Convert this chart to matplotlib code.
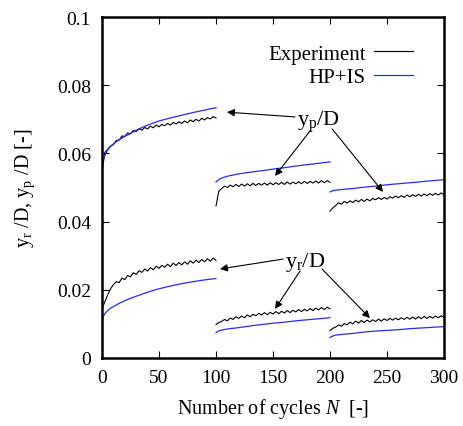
import numpy as np
import matplotlib
matplotlib.use('Agg')
import matplotlib.pyplot as plt

plt.rcParams['font.family'] = ['Liberation Serif', 'DejaVu Serif']
plt.rcParams['mathtext.fontset'] = 'custom'
plt.rcParams['mathtext.rm'] = 'Liberation Serif'
plt.rcParams['mathtext.it'] = 'Liberation Serif:italic'

# experiment, sampled every 2.5 cycles
n_exp1 = np.arange(0, 100.1, 2.5)
n_exp2 = np.arange(100, 200.1, 2.5)
n_exp3 = np.arange(200, 300.1, 2.5)

yp_exp1 = [0.0545, 0.0603, 0.0612, 0.0622, 0.0626, 0.0638, 0.0639, 0.0651, 0.0650, 0.0660,
           0.0658, 0.0667, 0.0664, 0.0672, 0.0668, 0.0676, 0.0672, 0.0680, 0.0675, 0.0683,
           0.0678, 0.0685, 0.0681, 0.0688, 0.0683, 0.0691, 0.0686, 0.0693, 0.0688, 0.0695,
           0.0690, 0.0698, 0.0693, 0.0700, 0.0695, 0.0703, 0.0698, 0.0705, 0.0701, 0.0708,
           0.0704]
yp_exp2 = [0.0446, 0.0490, 0.0497, 0.0504, 0.0500, 0.0507, 0.0502, 0.0509, 0.0503, 0.0510,
           0.0504, 0.0511, 0.0505, 0.0512, 0.0506, 0.0512, 0.0507, 0.0513, 0.0507, 0.0514,
           0.0508, 0.0514, 0.0509, 0.0515, 0.0509, 0.0516, 0.0510, 0.0516, 0.0511, 0.0517,
           0.0511, 0.0518, 0.0512, 0.0518, 0.0513, 0.0519, 0.0513, 0.0520, 0.0514, 0.0520,
           0.0515]
yp_exp3 = [0.0431, 0.0440, 0.0447, 0.0455, 0.0451, 0.0459, 0.0454, 0.0461, 0.0456, 0.0463,
           0.0458, 0.0465, 0.0459, 0.0466, 0.0461, 0.0468, 0.0464, 0.0470, 0.0465, 0.0471,
           0.0466, 0.0473, 0.0469, 0.0475, 0.0470, 0.0476, 0.0471, 0.0478, 0.0473, 0.0479,
           0.0474, 0.0480, 0.0475, 0.0481, 0.0476, 0.0482, 0.0477, 0.0483, 0.0478, 0.0484,
           0.0479]
yr_exp1 = [0.0145, 0.0165, 0.0185, 0.0203, 0.0215, 0.0224, 0.0221, 0.0234, 0.0230, 0.0242,
           0.0238, 0.0250, 0.0245, 0.0256, 0.0251, 0.0261, 0.0255, 0.0265, 0.0259, 0.0269,
           0.0263, 0.0272, 0.0266, 0.0275, 0.0268, 0.0278, 0.0271, 0.0280, 0.0273, 0.0282,
           0.0275, 0.0285, 0.0278, 0.0287, 0.0280, 0.0289, 0.0282, 0.0291, 0.0284, 0.0293,
           0.0286]
yr_exp2 = [0.0098, 0.0104, 0.0107, 0.0113, 0.0109, 0.0117, 0.0113, 0.0121, 0.0116, 0.0123,
           0.0118, 0.0126, 0.0121, 0.0128, 0.0124, 0.0131, 0.0126, 0.0133, 0.0127, 0.0134,
           0.0129, 0.0136, 0.0130, 0.0137, 0.0132, 0.0139, 0.0133, 0.0140, 0.0135, 0.0142,
           0.0136, 0.0143, 0.0138, 0.0145, 0.0139, 0.0146, 0.0141, 0.0148, 0.0142, 0.0149,
           0.0144]
yr_exp3 = [0.0080, 0.0087, 0.0091, 0.0097, 0.0093, 0.0101, 0.0097, 0.0105, 0.0100, 0.0108,
           0.0102, 0.0110, 0.0104, 0.0111, 0.0106, 0.0112, 0.0107, 0.0114, 0.0108, 0.0115,
           0.0110, 0.0116, 0.0111, 0.0117, 0.0112, 0.0118, 0.0113, 0.0119, 0.0114, 0.0120,
           0.0114, 0.0121, 0.0115, 0.0122, 0.0116, 0.0122, 0.0117, 0.0123, 0.0118, 0.0124,
           0.0119]

# HP+IS model
n_mod1 = [0, 1, 2.5, 5, 7.5, 10, 15, 20, 25, 30, 40, 50, 60, 70, 80, 90, 100]
yp_mod1 = [0.0548, 0.0578, 0.0594, 0.0610, 0.0620, 0.0628, 0.0640, 0.0650, 0.0658, 0.0668,
           0.0683, 0.0695, 0.0704, 0.0712, 0.0720, 0.0727, 0.0734]
yr_mod1 = [0.0109, 0.0120, 0.0130, 0.0139, 0.0146, 0.0151, 0.0160, 0.0168, 0.0175, 0.0181,
           0.0193, 0.0203, 0.0211, 0.0218, 0.0224, 0.0229, 0.0233]
n_mod2 = [100, 102, 105, 110, 120, 130, 140, 150, 160, 170, 180, 190, 200]
yp_mod2 = [0.0516, 0.0522, 0.0528, 0.0533, 0.0540, 0.0545, 0.0549, 0.0554, 0.0558, 0.0563,
           0.0567, 0.0571, 0.0575]
yr_mod2 = [0.0074, 0.0079, 0.0082, 0.0085, 0.0089, 0.0094, 0.0098, 0.0102, 0.0105, 0.0109,
           0.0112, 0.0115, 0.0118]
n_mod3 = [200, 202, 205, 210, 220, 230, 240, 250, 260, 270, 280, 290, 300]
yp_mod3 = [0.0487, 0.0490, 0.0492, 0.0494, 0.0497, 0.0501, 0.0504, 0.0508, 0.0511, 0.0514,
           0.0517, 0.0520, 0.0523]
yr_mod3 = [0.0060, 0.0064, 0.0067, 0.0069, 0.0072, 0.0076, 0.0079, 0.0081, 0.0083, 0.0086,
           0.0088, 0.0090, 0.0092]

xticks = [0, 50, 100, 150, 200, 250, 300]
yticks = [0, 0.02, 0.04, 0.06, 0.08, 0.1]
ytick_labels = ['0', '0.02', '0.04', '0.06', '0.08', '0.1']

blue = '#2a2aff'

fig = plt.figure(figsize=(4.63, 4.27), dpi=100)
ax = fig.add_axes([0.2203, 0.1593, 0.7387, 0.7985])

exp_sets = [(n_exp1, yp_exp1), (n_exp2, yp_exp2), (n_exp3, yp_exp3),
            (n_exp1, yr_exp1), (n_exp2, yr_exp2), (n_exp3, yr_exp3)]
mod_sets = [(n_mod1, yp_mod1), (n_mod2, yp_mod2), (n_mod3, yp_mod3),
            (n_mod1, yr_mod1), (n_mod2, yr_mod2), (n_mod3, yr_mod3)]

for i, (n, y) in enumerate(exp_sets):
    ax.plot(n, y, color='black', lw=0.8, label='Experiment' if i == 0 else None)
for i, (n, y) in enumerate(mod_sets):
    ax.plot(n, y, color=blue, lw=0.9, label='HP+IS' if i == 0 else None)

# annotations
arr = dict(arrowstyle='-|>', color='black', lw=0.8, mutation_scale=11, shrinkA=0, shrinkB=0)
ax.text(190, 0.0695, r'y$_\mathrm{p}$/D', fontsize=16, ha='center', va='center')
ax.annotate('', xy=(109.6, 0.0721), xytext=(169.3, 0.0707), arrowprops=arr)
ax.annotate('', xy=(151.8, 0.0534), xytext=(182.5, 0.0666), arrowprops=arr)
ax.annotate('', xy=(246.5, 0.0487), xytext=(201.8, 0.0672), arrowprops=arr)

ax.text(178, 0.0282, r'y$_\mathrm{r}$/D', fontsize=16, ha='center', va='center')
ax.annotate('', xy=(103.5, 0.0261), xytext=(158.8, 0.0290), arrowprops=arr)
ax.annotate('', xy=(151.8, 0.0144), xytext=(173.7, 0.0255), arrowprops=arr)
ax.annotate('', xy=(235, 0.0117), xytext=(193, 0.0261), arrowprops=arr)

ax.set_xlim(0, 300)
ax.set_ylim(0, 0.1)
ax.set_xticks(xticks)
ax.set_yticks(yticks)
ax.set_yticklabels(ytick_labels)
ax.tick_params(direction='in', top=True, right=True, length=5, width=0.8,
               labelsize=14, pad=8)
for s in ax.spines.values():
    s.set_linewidth(1.8)

ax.set_xlabel(r'Number of cycles $N$  [-]', fontsize=14.5, labelpad=7)
ax.set_ylabel(r'y$_\mathrm{r}$ /D, y$_\mathrm{p}$ /D [-]', fontsize=14.5, labelpad=14)

ax.legend(loc='upper right', bbox_to_anchor=(0.935, 0.945), frameon=False, markerfirst=False,
          fontsize=15, handlelength=1.9, handletextpad=0.4, labelspacing=0.2,
          borderaxespad=0)

fig.savefig('out.png', dpi=100)
